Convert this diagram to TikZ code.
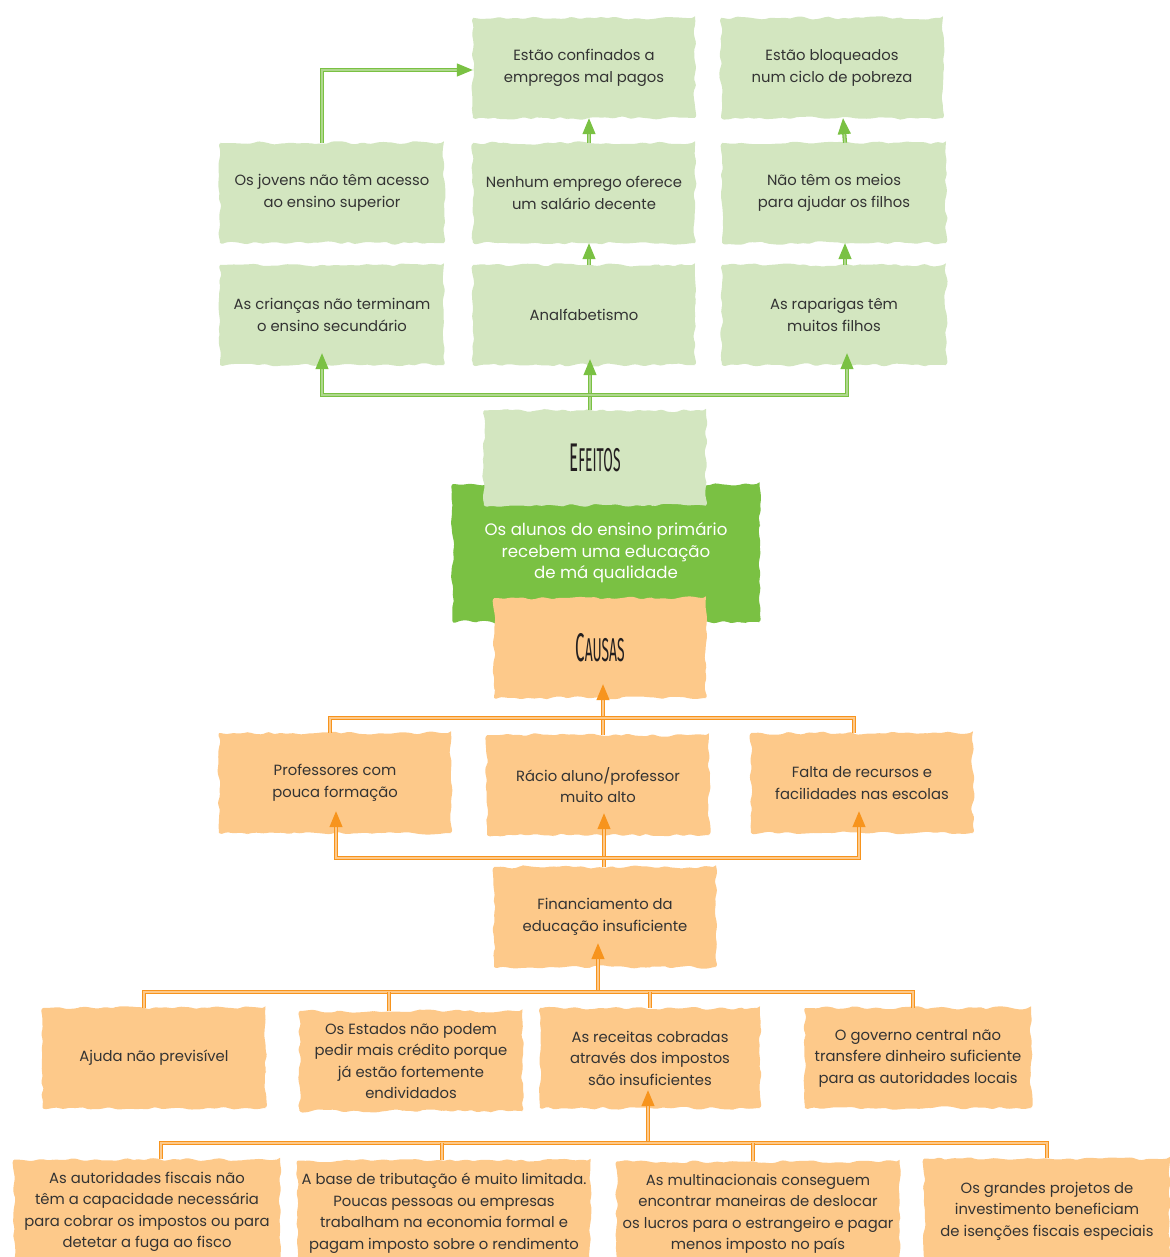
\documentclass[tikz,border=0pt]{standalone}
\usepackage{fontspec}
\setmainfont{Poppins}
\newfontfamily\titlefont[FakeStretch=0.42]{Fira Sans}
\usetikzlibrary{decorations.pathmorphing,arrows.meta,calc}
\definecolor{lgreen}{HTML}{D3E6C0}
\definecolor{dgreen}{HTML}{7AC143}
\definecolor{lorange}{HTML}{FDC98A}
\definecolor{dorange}{HTML}{F7941D}
\definecolor{txt}{HTML}{333333}
\definecolor{ttl}{HTML}{231F20}
\tikzset{
  blob/.style={decorate, decoration={random steps, segment length=6pt, amplitude=1.8pt},
    rounded corners=3pt, align=center, text=txt, inner sep=0pt,
    font=\fontsize{14.8}{21.5}\selectfont},
  gbox/.style={blob, fill=lgreen, minimum width=222pt, minimum height=100pt},
  obox/.style={blob, fill=lorange, minimum width=222pt, minimum height=100pt},
  pbox/.style={blob, fill=dgreen, text=white, minimum width=307pt, minimum height=138pt,
    font=\fontsize{16.6}{21.5}\selectfont},
  ttlbox/.style={font=\titlefont, text=ttl},
  gcon/.style={draw=dgreen, line width=1.3pt, double=lgreen!60!dgreen, double distance=1.6pt},
  ocon/.style={draw=dorange, line width=1.3pt, double=lorange, double distance=1.6pt},
  gtip/.style={-{Triangle[length=16pt,width=13pt]}},
  otip/.style={-{Triangle[length=16pt,width=13pt]}},
}
\newcommand{\bigsmall}[2]{{\fontsize{40}{40}\selectfont #1}{\fontsize{33}{33}\selectfont #2}}
\begin{document}
\begin{tikzpicture}[x=1pt,y=-1pt]
\useasboundingbox (0,0) rectangle (1169,1257);
\pgfmathsetseed{11}
% effects
\node[gbox] (confinados) at (584,68) {Estão confinados a\\empregos mal pagos};
\node[gbox] (bloqueados) at (832,68) {Estão bloqueados\\num ciclo de pobreza};
\node[gbox, minimum width=224pt] (jovens) at (332,193) {Os jovens não têm acesso\\ao ensino superior};
\node[gbox] (nenhum) at (584,193) {Nenhum emprego oferece\\um salário decente};
\node[gbox, minimum width=224pt] (meios) at (834,193) {Não têm os meios\\para ajudar os filhos};
\node[gbox, minimum width=224pt] (criancas) at (332,315) {As crianças não terminam\\o ensino secundário};
\node[gbox] (analf) at (584,315) {Analfabetismo};
\node[gbox, minimum width=224pt] (raparigas) at (834,315) {As raparigas têm\\muitos filhos};
% central problem
\node[pbox] (problema) at (606,553) {Os alunos do ensino primário\\recebem uma educação\\de má qualidade};
\node[gbox, ttlbox, minimum height=95pt] (efeitos) at (595,458) {\bigsmall{E}{FEITOS}};
\node[obox, ttlbox, minimum width=212pt] (causas) at (600,648) {\bigsmall{C}{AUSAS}};
% causes
\node[obox, minimum width=232pt] (professores) at (335,783) {Professores com\\pouca formação};
\node[obox] (racio) at (598,785) {Rácio aluno/professor\\muito alto};
\node[obox] (falta) at (862,783) {Falta de recursos e\\facilidades nas escolas};
\node[obox] (financ) at (605,917) {Financiamento da\\educação insuficiente};
\node[obox, minimum width=223pt] (ajuda) at (154,1058) {Ajuda não previsível};
\node[obox, minimum width=223pt] (estados) at (411,1061) {Os Estados não podem\\pedir mais crédito porque\\já estão fortemente\\endividados};
\node[obox, minimum width=220pt] (receitas) at (650,1058) {As receitas cobradas\\através dos impostos\\são insuficientes};
\node[obox, minimum width=226pt] (governo) at (918,1058) {O governo central não\\transfere dinheiro suficiente\\para as autoridades locais};
\node[obox, minimum width=266pt, minimum height=105pt] (autoridades) at (147,1212) {As autoridades fiscais não\\têm a capacidade necessária\\para cobrar os impostos ou para\\detetar a fuga ao fisco};
\node[obox, minimum width=293pt, minimum height=105pt] (base) at (444,1213) {A base de tributação é muito limitada.\\Poucas pessoas ou empresas\\trabalham na economia formal e\\pagam imposto sobre o rendimento};
\node[obox, minimum width=283pt, minimum height=105pt] (multi) at (758,1214) {As multinacionais conseguem\\encontrar maneiras de deslocar\\os lucros para o estrangeiro e pagar\\menos imposto no país};
\node[obox, minimum width=246pt, minimum height=105pt] (grandes) at (1047,1211) {Os grandes projetos de\\investimento beneficiam\\de isenções fiscais especiais};
% green connectors
\draw[gcon,gtip] ([xshift=-10pt]jovens.north) |- ([yshift=-2pt]confinados.west);
\draw[gcon,gtip] ([xshift=5pt]nenhum.north) -- ([xshift=5pt]confinados.south);
\draw[gcon,gtip] ([xshift=5pt]analf.north) -- ([xshift=5pt]nenhum.south);
\draw[gcon,gtip] ([xshift=11pt]meios.north) -- ([xshift=11pt]bloqueados.south);
\draw[gcon,gtip] ([xshift=11pt]raparigas.north) -- ([xshift=11pt]meios.south);
\coordinate (ghub) at (590,395);
\draw[gcon,gtip,shorten >=-6pt] (efeitos.north -| ghub) -- (analf.south -| ghub);
\draw[gcon,gtip,shorten >=-12pt] (ghub) -| ([xshift=-10pt]criancas.south);
\draw[gcon,gtip,shorten >=-12pt] (ghub) -| ([xshift=13pt]raparigas.south);
% orange connectors
\coordinate (ohub1) at (603,718);
\draw[ocon,otip,shorten >=-14pt] (racio.north -| ohub1) -- (causas.south -| ohub1);
\draw[ocon] ([xshift=-5pt]professores.north) |- (ohub1) -| ([xshift=-8pt]falta.north);
\coordinate (ohub2) at (604,858);
\draw[ocon,otip,shorten >=-22pt] (financ.north -| ohub2) -- (racio.south -| ohub2);
\draw[ocon,otip,shorten >=-22pt] (ohub2) -| ([xshift=1pt]professores.south);
\draw[ocon,otip,shorten >=-22pt] (ohub2) -| ([xshift=-3pt]falta.south);
\coordinate (ohub3) at (598,992);
\draw[ocon,otip,shorten >=-24pt] (ohub3) -- (financ.south -| ohub3);
\draw[ocon] ([xshift=-10pt]ajuda.north) |- (ohub3) -| ([xshift=-5pt]governo.north);
\coordinate (estleg) at ([xshift=-22pt]estados.north);
\draw[ocon] (estleg) -- (estleg |- ohub3);
\draw[ocon] (receitas.north) -- (receitas.north |- ohub3);
\coordinate (ohub4) at (648,1143);
\draw[ocon,otip,shorten >=-18pt] (ohub4) -- (receitas.south -| ohub4);
\draw[ocon] ([xshift=14pt]autoridades.north) |- (ohub4) -| (grandes.north);
\coordinate (baseleg) at ([xshift=-2pt]base.north);
\draw[ocon] (baseleg) -- (baseleg |- ohub4);
\coordinate (multileg) at ([xshift=-5pt]multi.north);
\draw[ocon] (multileg) -- (multileg |- ohub4);
\end{tikzpicture}
\end{document}
